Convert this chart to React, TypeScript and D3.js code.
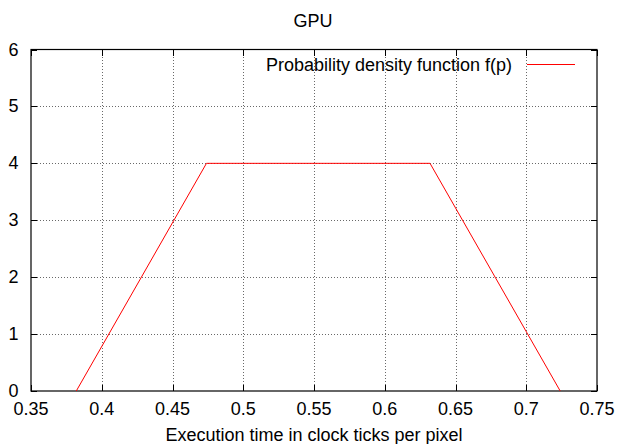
import React, { useEffect, useRef } from 'react';
import * as d3 from 'd3';

// trapezoid pdf
const pdfX = [0.382, 0.474, 0.632, 0.724];
const pdfY = [0, 4, 4, 0];
const xTicks = [0.35, 0.4, 0.45, 0.5, 0.55, 0.6, 0.65, 0.7, 0.75];
const yTicks = [0, 1, 2, 3, 4, 5, 6];

const title = 'GPU';
const xLabel = 'Execution time in clock ticks per pixel';
const legendLabel = 'Probability density function f(p)';

function App() {
  const svgRef = useRef<SVGSVGElement>(null);

  useEffect(() => {
    const width = 619;
    const height = 444;
    const margin = { top: 49.5, right: 22, bottom: 53, left: 31 };
    const font = '"Liberation Sans", Arial, Helvetica, sans-serif';
    const fs = '18px';

    const svg = d3.select(svgRef.current);
    svg.selectAll('*').remove();
    svg.attr('width', width).attr('height', height).style('font-family', font);

    const x = d3.scaleLinear().domain([0.35, 0.75]).range([margin.left, width - margin.right]);
    const y = d3.scaleLinear().domain([0, 6]).range([height - margin.bottom, margin.top]);

    svg.append('rect').attr('width', width).attr('height', height).attr('fill', '#fff');

    // grid
    const grid = svg.append('g')
      .attr('stroke', '#444')
      .attr('stroke-width', 0.8)
      .attr('stroke-dasharray', '1,2')
      .attr('shape-rendering', 'crispEdges');
    xTicks.slice(1, -1).forEach(t => {
      grid.append('line').attr('x1', Math.round(x(t)) + 0.5).attr('x2', Math.round(x(t)) + 0.5)
        .attr('y1', y(0)).attr('y2', y(6));
    });
    yTicks.slice(1, -1).forEach(t => {
      grid.append('line').attr('y1', Math.round(y(t)) + 0.5).attr('y2', Math.round(y(t)) + 0.5)
        .attr('x1', x(0.35)).attr('x2', x(0.75));
    });

    // ticks (inward, mirrored)
    const ticks = svg.append('g').attr('stroke', '#000').attr('stroke-width', 1)
      .attr('shape-rendering', 'crispEdges');
    xTicks.forEach(t => {
      const px = Math.round(x(t)) + 0.5;
      ticks.append('line').attr('x1', px).attr('x2', px).attr('y1', y(0)).attr('y2', y(0) - 6);
      ticks.append('line').attr('x1', px).attr('x2', px).attr('y1', y(6)).attr('y2', y(6) + 6);
    });
    yTicks.forEach(t => {
      const py = Math.round(y(t)) + 0.5;
      ticks.append('line').attr('x1', x(0.35)).attr('x2', x(0.35) + 6).attr('y1', py).attr('y2', py);
      ticks.append('line').attr('x1', x(0.75)).attr('x2', x(0.75) - 6).attr('y1', py).attr('y2', py);
    });

    // tick labels
    svg.append('g').selectAll('text').data(xTicks).join('text')
      .attr('x', d => x(d))
      .attr('y', y(0) + 24)
      .attr('text-anchor', 'middle')
      .style('font-size', fs)
      .text(d => String(d));
    svg.append('g').selectAll('text').data(yTicks).join('text')
      .attr('x', 18.5)
      .attr('y', d => y(d) + 6)
      .attr('text-anchor', 'end')
      .style('font-size', fs)
      .text(d => String(d));

    // frame
    svg.append('rect')
      .attr('x', x(0.35)).attr('y', y(6))
      .attr('width', x(0.75) - x(0.35)).attr('height', y(0) - y(6))
      .attr('fill', 'none').attr('stroke', '#000').attr('stroke-width', 1.2);

    // pdf line
    const line = d3.line<number>()
      .x(d => x(d))
      .y((_, i) => y(pdfY[i]));
    svg.append('path')
      .datum(pdfX)
      .attr('fill', 'none')
      .attr('stroke', '#ff0000')
      .attr('stroke-width', 1)
      .attr('d', line);

    // legend
    svg.append('text')
      .attr('x', 512)
      .attr('y', 70.5)
      .attr('text-anchor', 'end')
      .style('font-size', fs)
      .text(legendLabel);
    svg.append('line')
      .attr('x1', 527).attr('x2', 575).attr('y1', 64.5).attr('y2', 64.5)
      .attr('stroke', '#ff0000').attr('stroke-width', 1);

    // title & axis label
    svg.append('text')
      .attr('x', 313).attr('y', 27)
      .attr('text-anchor', 'middle')
      .style('font-size', fs)
      .text(title);
    svg.append('text')
      .attr('x', 314).attr('y', 441)
      .attr('text-anchor', 'middle')
      .style('font-size', fs)
      .text(xLabel);
  }, []);

  return <svg ref={svgRef} style={{ position: 'absolute', left: 0, top: 0 }}></svg>;
}

export default App;
